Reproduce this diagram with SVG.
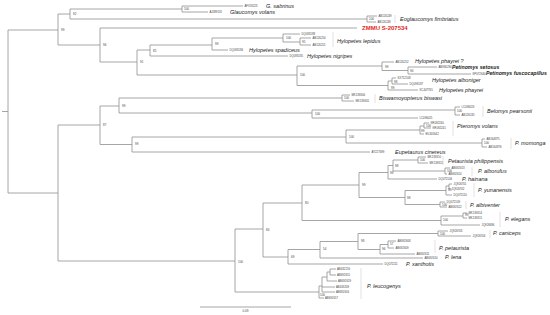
<svg xmlns="http://www.w3.org/2000/svg" width="550" height="315" viewBox="0 0 550 315">
<style>
.l{fill:none;stroke:#8f8f8f;stroke-width:0.8}
.bar{fill:none;stroke:#cfcfcf;stroke-width:0.6}
text{font-family:"Liberation Sans",Arial,sans-serif}
.sp{font-style:italic;font-size:5.5px;fill:#222}
.bd{font-weight:bold;font-size:5.2px}
.acc{font-size:2.8px;fill:#444}
.bs{font-size:3px;fill:#444}
.red{font-weight:bold;font-size:6px;fill:#e0281e}
</style>
<rect width="550" height="315" fill="#fff"/>
<g id="connectors" class="l">
<path d="M2,111.5H8M8,30V193M8,30H58M8,193H58"/>
<path d="M58,14V45M58,14H70M58,45H100"/>
<path d="M70,9V19M70,9H182M70,19H367"/>
<path d="M182,6V12M182,6H243M182,12H208"/>
<path d="M367,16V22M367,16H377M367,22H376"/>
<path d="M100,28V62M100,28H357M100,62H137"/>
<path d="M137,50V75M137,50H150M137,75H297"/>
<path d="M150,45V56M150,45H212M150,56H288"/>
<path d="M212,38V50M212,38H283M212,50H228"/>
<path d="M283,34V42M283,34H300M283,42H300"/>
<path d="M300,38V45M300,38H311M300,45H311"/>
<path d="M297,66V85.5M297,66H382M297,85.5H388"/>
<path d="M382,62V70.5M382,62H394M382,70.5H408"/>
<path d="M408,67V74M408,67H437M408,74H471"/>
<path d="M388,81V90M388,81H392M388,90H418"/>
<path d="M392,78V84M392,78H396M392,84H408"/>
<path d="M58,125V261M58,125H100M58,261H235"/>
<path d="M100,106V144.5M100,106H119M100,144.5H132"/>
<path d="M119,98V113M119,98H342M119,113H312"/>
<path d="M342,95V101M342,95H350M342,101H354"/>
<path d="M312,110V118M312,110H455M312,118H418"/>
<path d="M455,107V115M455,107H460M455,115H460"/>
<path d="M132,137V152M132,137H346M132,152H370"/>
<path d="M346,130V143M346,130H420M346,143H482"/>
<path d="M420,126V134M420,126H424M420,134H424"/>
<path d="M424,123V128M424,123H429M424,128H431"/>
<path d="M482,139V147M482,139H485M482,147H487"/>
<path d="M235,229V292M235,229H263M235,292H319"/>
<path d="M263,203V257M263,203H302M263,257H288"/>
<path d="M302,185V220.5M302,185H359M302,220.5H441"/>
<path d="M359,172.5V197.5M359,172.5H388M359,197.5H405"/>
<path d="M388,165.5V179M388,165.5H393M388,179H437"/>
<path d="M393,160V171M393,160H418M393,171H445"/>
<path d="M418,157V163M418,157H426M418,163H428"/>
<path d="M445,168V174M445,168H450M445,174H447"/>
<path d="M405,190.5V204.5M405,190.5H446M405,204.5H440"/>
<path d="M446,186V195M446,186H449M446,195H452"/>
<path d="M449,184V189M449,184H452M449,189H450"/>
<path d="M440,202V207M440,202H445M440,207H447"/>
<path d="M441,216V225M441,216H463M441,225H480"/>
<path d="M463,213V218M463,213H467M463,218H467"/>
<path d="M288,249.5V264M288,249.5H320M288,264H383"/>
<path d="M320,241.5V258M320,241.5H358M320,258H423"/>
<path d="M358,233.5V249.5M358,233.5H438M358,249.5H380"/>
<path d="M438,231V236M438,231H448M438,236H471"/>
<path d="M380,244.5V254M380,244.5H388M380,254H415"/>
<path d="M388,241V248M388,241H396M388,248H394"/>
<path d="M319,286V298M319,286H322M319,298H324"/>
<path d="M322,277V292M322,277H327M322,287H335M322,292H335"/>
<path d="M327,272V281M327,272H330M327,281H337"/>
<path d="M330,269V275M330,269H336M330,275H336"/>
<path d="M200,307H291"/>
</g>
<g id="bars" class="bar">
<path d="M395,15V23M333,32V47M375,94V103M483,106V117M453,121V136M511,138V149M443,156V165M472,167V176M474,183V197M466,201V209M500,212V227M490,230V238M435,240V253M361,268V299"/>
</g>
<g id="support" class="bs">
<text x="61" y="31">99</text><text x="73" y="15">92</text><text x="184" y="10">100</text><text x="369" y="20">100</text>
<text x="103" y="46">96</text><text x="140" y="63">91</text><text x="153" y="52">85</text><text x="215" y="45">99</text>
<text x="286" y="39">100</text><text x="302" y="43">95</text><text x="300" y="76">100</text><text x="385" y="68">99</text>
<text x="410" y="72">94</text><text x="394" y="83">98</text><text x="391" y="89">99</text>
<text x="103" y="126">87</text><text x="122" y="107">99</text><text x="344" y="99">100</text><text x="315" y="115">100</text>
<text x="457" y="112">100</text><text x="135" y="145">99</text><text x="349" y="138">100</text><text x="421" y="132">99</text>
<text x="426" y="126.5">100</text><text x="484" y="144">100</text>
<text x="238" y="263">100</text><text x="266" y="231">84</text><text x="305" y="204">80</text><text x="362" y="186">99</text>
<text x="390" y="174">98</text><text x="395" y="167">98</text><text x="420" y="161">100</text><text x="447" y="172">100</text>
<text x="407" y="199">98</text><text x="448" y="191">98</text><text x="442" y="206">100</text><text x="443" y="221">100</text>
<text x="465" y="216">99</text><text x="291" y="258">69</text><text x="323" y="250">54</text><text x="361" y="242">98</text>
<text x="440" y="235">100</text><text x="382" y="250">96</text><text x="390" y="245">57</text><text x="320" y="296">100</text>
</g>
<g id="accessions" class="acc">
<text x="244.5" y="7">AF359223</text><text x="209.5" y="13">AJ389531</text>
<text x="378.5" y="17">AB126249</text><text x="377.5" y="23">AB126248</text>
<text x="301.5" y="35">DQ093188</text><text x="312.5" y="39">AB126250</text><text x="312.5" y="46">AB126251</text>
<text x="229.5" y="51">DQ093186</text><text x="289.5" y="57">DQ093185</text>
<text x="395.5" y="63">AB126252</text><text x="438.5" y="68">AB936290</text><text x="472.5" y="75">KP072640</text>
<text x="397.5" y="79">KX712108</text><text x="409.5" y="85">DQ093187</text><text x="419.5" y="91">KC447765</text>
<text x="351.5" y="96">MK139306</text><text x="355.5" y="102">MK139305</text>
<text x="461.5" y="108">LC096019</text><text x="461.5" y="116">AB126245</text><text x="419.5" y="119">LC096025</text>
<text x="430.5" y="124">KR092240</text><text x="432.5" y="129">KR092241</text><text x="425.5" y="135">EU301642</text>
<text x="486.5" y="140">AB164875</text><text x="488.5" y="148">AB164876</text><text x="371.5" y="153">AY227499</text>
<text x="427.5" y="158">MK139310</text><text x="429.5" y="164">MK139311</text>
<text x="451.5" y="169">AB692613</text><text x="448.5" y="175">AB692614</text><text x="438.5" y="180">DQ072106</text>
<text x="453.5" y="185">JQ926701</text><text x="451.5" y="190">JQ926702</text><text x="453.5" y="196">DQ072110</text>
<text x="446.5" y="203">DQ072109</text><text x="448.5" y="208">AB692612</text>
<text x="468.5" y="214">MK139314</text><text x="468.5" y="219">MK139315</text><text x="481.5" y="226">JQ926696</text>
<text x="449.5" y="232">JQ926703</text><text x="472.5" y="237">JQ926704</text>
<text x="397.5" y="242">AB692608</text><text x="395.5" y="249">AB692609</text><text x="416.5" y="255">AB692611</text>
<text x="424.5" y="259">AB692610</text><text x="384.5" y="265">DQ072111</text>
<text x="337" y="270">AB432216</text><text x="337" y="276">AB692615</text><text x="338" y="282">AB692619</text>
<text x="336" y="288">AB433209</text><text x="336" y="293">AB692616</text><text x="325" y="299">AB692617</text>
</g>
<g id="taxa" class="sp">
<g id="n-gsab"><text x="266" y="8">G. sabrinus</text></g>
<g id="n-gvol"><text x="230" y="14">Glaucomys volans</text></g>
<g id="n-eogl"><text x="400" y="21">Eoglaucomys fimbriatus</text></g>
<g id="n-zmmu"><text class="red" x="362" y="30" font-style="normal">ZMMU S-207534</text></g>
<g id="n-hlep"><text x="337" y="43">Hylopetes lepidus</text></g>
<g id="n-hspa"><text x="249" y="52">Hylopetes spadiceus</text></g>
<g id="n-hnig"><text x="307" y="58">Hylopetes nigripes</text></g>
<g id="n-hphq"><text x="415" y="63">Hylopetes phayrei ?</text></g>
<g id="n-pset"><text class="bd" x="452" y="68.5">Petinomys setosus</text></g>
<g id="n-pfus"><text class="bd" x="486" y="75">Petinomys fuscocapillus</text></g>
<g id="n-halb"><text x="432" y="82">Hylopetes alboniger</text></g>
<g id="n-hpha"><text x="439" y="92">Hylopetes phayrei</text></g>
<g id="n-bisw"><text x="379" y="100">Biswamoyopterus biswasi</text></g>
<g id="n-belo"><text x="487" y="113">Belomys pearsonii</text></g>
<g id="n-ptvo"><text x="457" y="128">Pteromys volans</text></g>
<g id="n-pmom"><text x="515" y="145">P. momonga</text></g>
<g id="n-eupe"><text x="395" y="154">Eupetaurus cinereus</text></g>
<g id="n-pphi"><text x="448" y="163">Petaurista philippensis</text></g>
<g id="n-palb"><text x="478" y="173">P. alborufus</text></g>
<g id="n-phai"><text x="462" y="181">P. hainana</text></g>
<g id="n-pyun"><text x="478" y="192">P. yunanensis</text></g>
<g id="n-palv"><text x="470" y="207">P. albiventer</text></g>
<g id="n-pele"><text x="505" y="221">P. elegans</text></g>
<g id="n-pcan"><text x="493" y="235">P. caniceps</text></g>
<g id="n-ppet"><text x="439" y="250">P. petaurista</text></g>
<g id="n-plen"><text x="445" y="259">P. lena</text></g>
<g id="n-pxan"><text x="406" y="266">P. xanthotis</text></g>
<g id="n-pleu"><text x="367" y="288">P. leucogenys</text></g>
</g>
<g id="scale"><text class="bs" x="245.5" y="312" text-anchor="middle">0.09</text></g>
</svg>
